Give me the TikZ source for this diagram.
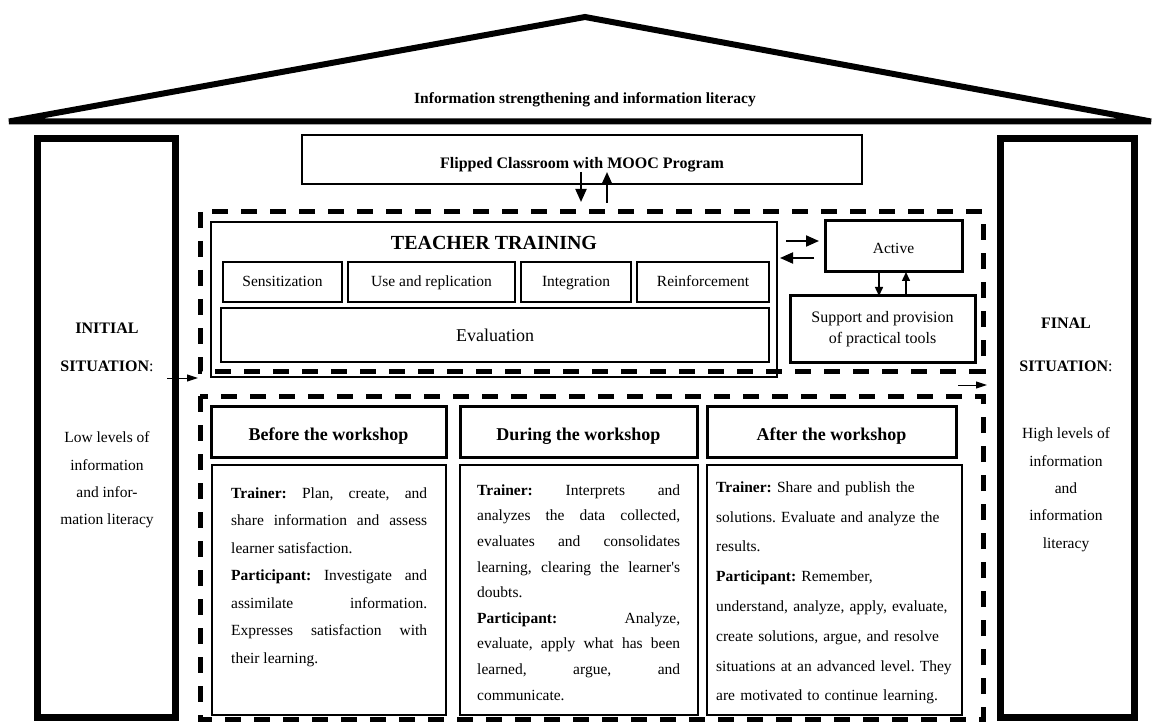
\documentclass[tikz,border=0pt]{standalone}
\usepackage{fontspec}
\setmainfont{Liberation Serif}
\usetikzlibrary{arrows.meta}
\frenchspacing
\begin{document}
\begin{tikzpicture}[x=1pt,y=-1pt,
  frame/.style={draw, line width=#1, inner sep=0pt, outer sep=0pt, align=center},
  dashbox/.style={line width=5pt, dash pattern=on 16pt off 13pt},
  bigarrow/.style={line width=2pt, -{Triangle[length=13pt,width=11pt]}},
  midarrow/.style={line width=1.5pt, -{Triangle[length=9pt,width=8pt]}},
  thinarrow/.style={line width=1pt, -{Triangle[length=11pt,width=7pt]}},
  bodytext/.style={font=\fontsize{15.5}{#1}\selectfont, inner sep=0pt, anchor=north west},
  coltext/.style={font=\fontsize{15.5}{27.4}\selectfont, inner sep=0pt, align=center, anchor=north},
  colhead/.style={font=\bfseries\fontsize{16}{19}\selectfont, inner sep=0pt, anchor=base},
]
\useasboundingbox (0,0) rectangle (1152,722);

% roof
\draw[line width=6pt, line join=miter] (9,121.5) -- (585,17) -- (1151,121.5) -- cycle;
\node[font=\bfseries\fontsize{15.5}{18}\selectfont, inner sep=0pt] (roof) at (585,100) {Information strengthening and information literacy};

% side columns
\node[frame=7pt, minimum width=138pt, minimum height=578pt] (lc) at (106,428) {};
\node[frame=7pt, minimum width=134pt, minimum height=578pt] (rc) at (1067,428) {};

\node[colhead] (ini1) at (107,333.5) {INITIAL};
\node[colhead] (ini2) at (107,371.5) {SITUATION\textmd{:}};
\node[coltext] (ini3) at (107,430.5) {\rule{0pt}{12pt}Low levels of\\information\\and infor-\\mation literacy};

\node[colhead] (fin1) at (1066,328.5) {FINAL};
\node[colhead] (fin2) at (1066,371.5) {SITUATION\textmd{:}};
\node[coltext] (fin3) at (1066,426.5) {\rule{0pt}{12pt}High levels of\\information\\and\\information\\literacy};

% flipped classroom
\node[frame=2.5pt, minimum width=560pt, minimum height=49pt, font=\bfseries\fontsize{16}{19}\selectfont, text height=19pt, text depth=0pt] (fl) at (582,159.5) {Flipped Classroom with MOOC Program};

% dashed frames
\draw[dashbox] (200,212) rectangle (983,371);
\draw[dashbox] (200,396) rectangle (983,719);

% teacher training
\node[frame=2.5pt, minimum width=566pt, minimum height=155pt] (tt) at (494,299.5) {};
\node[font=\bfseries\fontsize{20}{24}\selectfont, inner sep=0pt] (ttl) at (494,243) {TEACHER TRAINING};
\tikzset{sub/.style={frame=1.5pt, minimum height=40pt, font=\fontsize{15.5}{18}\selectfont, text height=10pt, text depth=0pt}}
\node[sub, minimum width=119pt] (sens) at (282.5,282) {Sensitization};
\node[sub, minimum width=167pt] (use) at (431.5,282) {Use and replication};
\node[sub, minimum width=110pt] (integ) at (576,282) {Integration};
\node[sub, minimum width=132pt] (reinf) at (703,282) {Reinforcement};
\node[frame=1.5pt, minimum width=548pt, minimum height=54pt, font=\fontsize{18}{21}\selectfont] (eval) at (495,335) {Evaluation};

% active / support
\node[frame=3pt, minimum width=137pt, minimum height=51pt, font=\fontsize{15.5}{18}\selectfont, text height=14pt, text depth=0pt] (act) at (893.5,246.5) {Active};
\node[frame=3pt, minimum width=185pt, minimum height=66pt, font=\fontsize{16}{21}\selectfont] (sup) at (882.5,329) {Support and provision\\of practical tools};

% arrows
\draw[bigarrow] ([xshift=-1pt,yshift=12pt]fl.south) -- ([xshift=87pt,yshift=20pt]tt.north);
\draw[bigarrow] ([xshift=113pt,yshift=19pt]tt.north) -- ([xshift=25pt,yshift=12pt]fl.south);
\draw[bigarrow] ([xshift=9pt,yshift=-19pt]tt.north east) -- ([xshift=-6pt,yshift=5.5pt]act.west);
\draw[bigarrow] ([xshift=-11pt,yshift=-11.5pt]act.west) -- ([xshift=3pt,yshift=-36pt]tt.north east);
\draw[midarrow] ([xshift=-14.5pt]act.south) -- ([xshift=-3.5pt]sup.north);
\draw[midarrow] ([xshift=23.5pt]sup.north) -- ([xshift=12.5pt]act.south);

\coordinate (inA) at (167,378);
\coordinate (inB) at (198,378);
\draw[thinarrow] (inA) -- (inB);
\coordinate (outA) at (958,385);
\coordinate (outB) at (987,385);
\draw[thinarrow] (outA) -- (outB);

% workshop headers
\tikzset{head/.style={frame=3pt, minimum height=51pt, font=\bfseries\fontsize{18}{21}\selectfont, text height=17pt, text depth=0pt}}
\node[head, minimum width=235pt] (bh) at (328.5,431.5) {Before the workshop};
\node[head, minimum width=237pt] (dh) at (578.5,431.5) {During the workshop};
\node[head, minimum width=249pt] (ah) at (831.5,431.5) {After the workshop};

% content boxes
\node[frame=2.5pt, minimum width=234pt, minimum height=250pt] (bc) at (329,590) {};
\node[frame=2.5pt, minimum width=238pt, minimum height=250pt] (dc) at (579,590) {};
\node[frame=2.5pt, minimum width=255pt, minimum height=250pt] (ac) at (834.5,590) {};

\node[bodytext=27.5, text width=196pt, align=justify] (bt) at (231,486) {\rule{0pt}{12pt}\textbf{Trainer:} Plan, create, and\linebreak share information and assess\linebreak learner satisfaction.\par
\textbf{Participant:} Investigate and\linebreak assimilate information.\linebreak Expresses satisfaction with\linebreak their learning.};

\node[bodytext=25.6, text width=203pt, align=justify] (dt) at (477,483) {\rule{0pt}{12pt}\textbf{Trainer:} Interprets and\linebreak analyzes the data collected,\linebreak evaluates and consolidates\linebreak learning, clearing the learner\textquotesingle s\linebreak doubts.\par
\textbf{Participant:} Analyze,\linebreak evaluate, apply what has been\linebreak learned, argue, and\linebreak communicate.};

\node[bodytext=29.8, text width=240pt, align=left] (at) at (716,480) {\rule{0pt}{12pt}\textbf{Trainer:} Share and publish the\\solutions. Evaluate and analyze the\\results.\\\textbf{Participant:} Remember,\\understand, analyze, apply, evaluate,\\create solutions, argue, and resolve\\situations at an advanced level. They\\are motivated to continue learning.};

\end{tikzpicture}
\end{document}
